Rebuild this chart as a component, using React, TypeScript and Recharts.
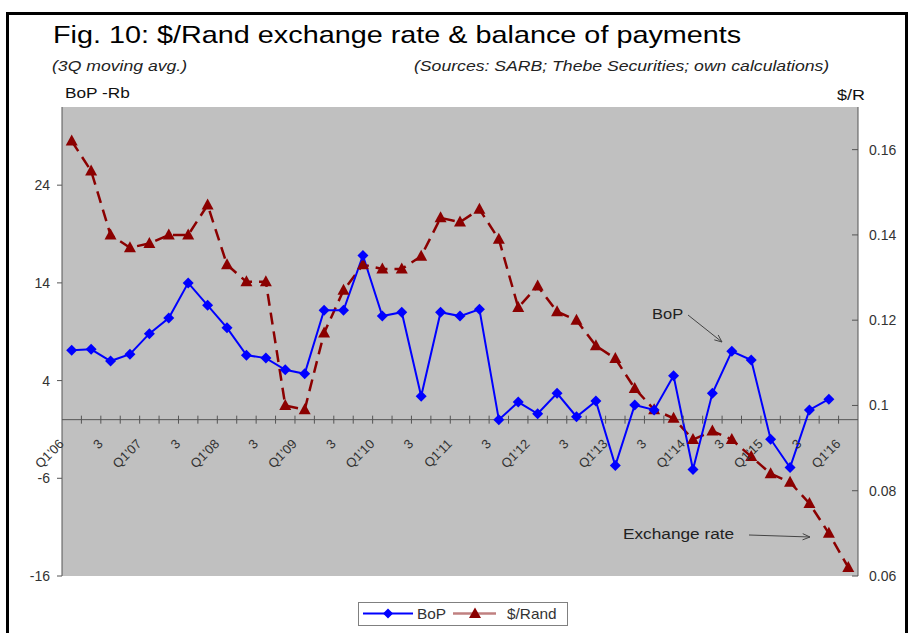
import { CartesianGrid, ComposedChart, Line, ReferenceLine, XAxis, YAxis } from "recharts";

const QUARTERS = [
  "Q1'06", "Q2'06", "Q3'06", "Q4'06",
  "Q1'07", "Q2'07", "Q3'07", "Q4'07",
  "Q1'08", "Q2'08", "Q3'08", "Q4'08",
  "Q1'09", "Q2'09", "Q3'09", "Q4'09",
  "Q1'10", "Q2'10", "Q3'10", "Q4'10",
  "Q1'11", "Q2'11", "Q3'11", "Q4'11",
  "Q1'12", "Q2'12", "Q3'12", "Q4'12",
  "Q1'13", "Q2'13", "Q3'13", "Q4'13",
  "Q1'14", "Q2'14", "Q3'14", "Q4'14",
  "Q1'15", "Q2'15", "Q3'15", "Q4'15",
  "Q1'16",
];

// BoP, Rand billion (3Q moving avg) - ends Q4'15
const BOP = [
  7.1, 7.2, 6.0, 6.7, 8.8, 10.4, 14.0, 11.7, 9.4, 6.6,
  6.3, 5.1, 4.7, 11.2, 11.2, 16.8, 10.6, 11.0, 2.4, 11.0,
  10.6, 11.3, 0.0, 1.8, 0.6, 2.7, 0.3, 1.9, -4.7, 1.5,
  1.0, 4.5, -5.1, 2.7, 7.0, 6.1, -2.0, -4.9, 1.0, 2.1,
];

// $/Rand
const RAND = [
  0.162, 0.155, 0.140, 0.137, 0.138, 0.140, 0.140, 0.147, 0.133, 0.129,
  0.129, 0.100, 0.099, 0.117, 0.127, 0.133, 0.132, 0.132, 0.135, 0.144,
  0.143, 0.146, 0.139, 0.123, 0.128, 0.122, 0.120, 0.114, 0.111, 0.104,
  0.099, 0.097, 0.092, 0.094, 0.092, 0.088, 0.084, 0.082, 0.077, 0.070,
  0.062,
];

const LEFT_TICKS = [-16, -6, 4, 14, 24];
const RIGHT_TICKS = [0.06, 0.08, 0.1, 0.12, 0.14, 0.16];
const LEFT_DOMAIN: [number, number] = [-16, 32];
const RIGHT_DOMAIN: [number, number] = [0.06, 0.17];

const data = QUARTERS.map((q, i) => ({
  q,
  bop: i < BOP.length ? BOP[i] : null,
  rand: RAND[i],
}));

const W = 911;
const H = 633;
const MARGIN = { top: 107, right: 8, bottom: 56, left: 22 };
const LEFT_W = 40;
const RIGHT_W = 45;
const X_H = 1;
const PLOT_L = MARGIN.left + LEFT_W;
const PLOT_R = W - MARGIN.right - RIGHT_W;
const PLOT_T = MARGIN.top;
const PLOT_B = H - MARGIN.bottom - X_H;
const BAND = (PLOT_R - PLOT_L) / QUARTERS.length;
const ZERO_Y =
  PLOT_T + ((PLOT_B - PLOT_T) * LEFT_DOMAIN[1]) / (LEFT_DOMAIN[1] - LEFT_DOMAIN[0]);

const FONT = "'Liberation Sans', Arial, sans-serif";
const AXIS_GREY = "#555";

function QuarterTick(props: any) {
  const { x, payload, index } = props;
  const q: string = payload.value;
  const label = q.startsWith("Q1") ? q : q.startsWith("Q3") ? "3" : "";
  const bx = x - BAND / 2;
  const ax = x - 7;
  const ay = ZERO_Y + 25;
  return (
    <g>
      {index > 0 && <line x1={bx} x2={bx} y1={ZERO_Y - 4} y2={ZERO_Y + 4} stroke={AXIS_GREY} />}
      {label && (
        <text
          x={ax}
          y={ay}
          transform={`rotate(-45 ${ax} ${ay})`}
          textAnchor="end"
          fontSize={13}
          fill="#333"
          fontFamily={FONT}
        >
          {label}
        </text>
      )}
    </g>
  );
}

function RateTick(props: any) {
  const { y, payload } = props;
  return (
    <g>
      <line x1={PLOT_R - 6} x2={PLOT_R} y1={y} y2={y} stroke={AXIS_GREY} />
      <text x={PLOT_R + 11} y={y} dy={5} fontSize={14} fill="#333" fontFamily={FONT}>
        {String(payload.value)}
      </text>
    </g>
  );
}

function diamond(p: any) {
  if (p.cy == null || p.value == null) return <g key={p.index} />;
  const { cx, cy } = p;
  return (
    <polygon
      key={p.index}
      points={`${cx},${cy - 5.5} ${cx + 5.5},${cy} ${cx},${cy + 5.5} ${cx - 5.5},${cy}`}
      fill="#0000ff"
    />
  );
}

function triangle(p: any) {
  if (p.cy == null) return <g key={p.index} />;
  const { cx, cy } = p;
  return (
    <polygon
      key={p.index}
      points={`${cx},${cy - 6.5} ${cx + 6},${cy + 4.5} ${cx - 6},${cy + 4.5}`}
      fill="#8b0000"
    />
  );
}

function Arrow({ x1, y1, x2, y2 }: { x1: number; y1: number; x2: number; y2: number }) {
  const a = Math.atan2(y2 - y1, x2 - x1);
  const len = 8;
  const s = 0.4;
  const p1 = [x2 - len * Math.cos(a - s), y2 - len * Math.sin(a - s)];
  const p2 = [x2 - len * Math.cos(a + s), y2 - len * Math.sin(a + s)];
  return (
    <g stroke="#444" strokeWidth={1} fill="none">
      <line x1={x1} y1={y1} x2={x2} y2={y2} />
      <polyline points={`${p1[0]},${p1[1]} ${x2},${y2} ${p2[0]},${p2[1]}`} />
    </g>
  );
}

function Label({ x, y, size, sx, text, italic, color = "#111" }: any) {
  return (
    <text
      transform={`translate(${x} ${y}) scale(${sx} 1)`}
      fontSize={size}
      fontStyle={italic ? "italic" : "normal"}
      fill={color}
      fontFamily={FONT}
    >
      {text}
    </text>
  );
}

export default function App() {
  return (
    <div
      style={{
        position: "absolute",
        left: 0,
        top: 0,
        width: W,
        height: H,
        overflow: "hidden",
        background: "#fff",
        fontFamily: FONT,
      }}
    >
      <div
        style={{
          position: "absolute",
          left: 6,
          top: 12,
          width: 902,
          height: 700,
          boxSizing: "border-box",
          border: "3px solid #000",
        }}
      />
      <div style={{ position: "absolute", left: 0, top: 0 }}>
        <ComposedChart width={W} height={H} data={data} margin={MARGIN}>
          <CartesianGrid fill="#c0c0c0" stroke="none" horizontal={false} vertical={false} />
          <XAxis
            dataKey="q"
            scale="band"
            height={X_H}
            axisLine={false}
            tickLine={false}
            interval={0}
            tick={<QuarterTick />}
          />
          <YAxis
            yAxisId="left"
            domain={LEFT_DOMAIN}
            ticks={LEFT_TICKS}
            width={LEFT_W}
            allowDataOverflow
            axisLine={{ stroke: AXIS_GREY }}
            tickLine={{ stroke: AXIS_GREY }}
            tickSize={5}
            tickMargin={7}
            tick={{ fill: "#333", fontSize: 14, fontFamily: FONT }}
          />
          <YAxis
            yAxisId="right"
            orientation="right"
            domain={RIGHT_DOMAIN}
            ticks={RIGHT_TICKS}
            width={RIGHT_W}
            allowDataOverflow
            axisLine={{ stroke: AXIS_GREY }}
            tickLine={false}
            tickSize={0}
            tick={<RateTick />}
          />
          <ReferenceLine yAxisId="left" y={0} stroke={AXIS_GREY} />
          <Line
            yAxisId="right"
            dataKey="rand"
            stroke="#8b0000"
            strokeWidth={2.5}
            strokeDasharray="12 7"
            dot={triangle}
            activeDot={false}
            isAnimationActive={false}
          />
          <Line
            yAxisId="left"
            dataKey="bop"
            stroke="#0000ff"
            strokeWidth={2}
            dot={diamond}
            activeDot={false}
            isAnimationActive={false}
          />
        </ComposedChart>
      </div>
      <svg
        width={W}
        height={H}
        style={{ position: "absolute", left: 0, top: 0, pointerEvents: "none" }}
      >
        <Label x={53} y={43} size={24} sx={1.2} text="Fig. 10: $/Rand exchange rate & balance of payments" color="#000" />
        <Label x={52} y={71} size={14} sx={1.26} italic text="(3Q moving avg.)" color="#222" />
        <Label x={414} y={71} size={14} sx={1.26} italic text="(Sources: SARB; Thebe Securities; own calculations)" color="#222" />
        <Label x={65} y={98} size={15} sx={1.15} text="BoP -Rb" />
        <Label x={837} y={100} size={15} sx={1.2} text="$/R" />
        <Label x={652} y={319} size={15} sx={1.1} text="BoP" color="#222" />
        <Arrow x1={688} y1={315} x2={722} y2={342} />
        <Label x={623} y={539} size={15} sx={1.15} text="Exchange rate" color="#222" />
        <Arrow x1={749} y1={535} x2={810} y2={537} />
        <g>
          <rect x={358.5} y={602.5} width={209} height={23} fill="#fff" stroke="#808080" />
          <line x1={363} x2={413} y1={613.5} y2={613.5} stroke="#0000ff" strokeWidth={2} />
          <polygon points="388,608.5 393,613.5 388,618.5 383,613.5" fill="#0000ff" />
          <Label x={417} y={619} size={14} sx={1.1} text="BoP" color="#333" />
          <line x1={453} x2={496} y1={613.5} y2={613.5} stroke="#c08080" strokeWidth={2.5} />
          <polygon points="475,607.5 481,618 469,618" fill="#8b0000" />
          <Label x={507} y={619} size={14} sx={1.1} text="$/Rand" color="#333" />
        </g>
      </svg>
    </div>
  );
}
